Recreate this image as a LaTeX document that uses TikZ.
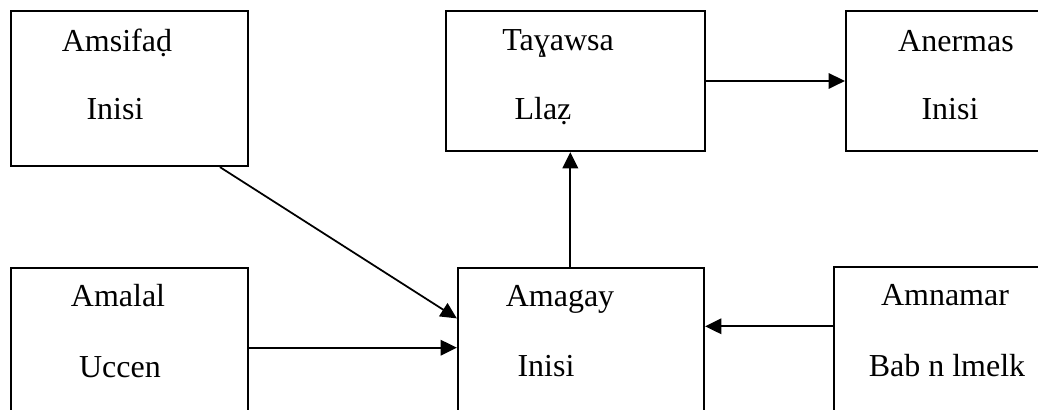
\documentclass[tikz,border=0pt]{standalone}
\usepackage{fontspec}
\setmainfont{Liberation Serif}
\usepackage{tikz}
\usetikzlibrary{arrows.meta}
\tikzstyle{block}=[draw,line width=0.6pt,rectangle,inner sep=0pt]
\tikzstyle{word}=[anchor=base,inner sep=0pt,font=\fontsize{9.1pt}{11pt}\selectfont]

\begin{document}
\begin{tikzpicture}[x=0.01cm, y=-0.01cm, line width=0.5pt, >={Triangle[length=4.6pt,width=4.4pt]}]
      \useasboundingbox (0,0) rectangle (1038,410);
      \clip (0,0) rectangle (1038,410);

      \node[block, minimum width=2.37cm, minimum height=1.55cm] (amsifad) at (129.5, 88.5) {};
      \node[block, minimum width=2.59cm, minimum height=1.40cm] (tayawsa) at (575.5, 81) {};
      \node[block, minimum width=2.04cm, minimum height=1.40cm] (anermas) at (948, 81) {};
      \node[block, minimum width=2.37cm, minimum height=1.72cm] (amalal) at (129.5, 354) {};
      \node[block, minimum width=2.46cm, minimum height=1.72cm] (amagay) at (581, 354) {};
      \node[block, minimum width=2.16cm, minimum height=1.73cm] (amnamar) at (942, 353.5) {};

      \node[word] (amsifad1) at (117, 52) {Amsifaḍ};
      \node[word] (amsifad2) at (115, 120) {Inisi};
      \node[word] (tayawsa1) at (558, 51) {Taɣawsa};
      \node[word] (tayawsa2) at (543, 120) {Llaẓ};
      \node[word] (anermas1) at (956, 52) {Anermas};
      \node[word] (anermas2) at (950, 120) {Inisi};
      \node[word] (amalal1) at (118, 307) {Amalal};
      \node[word] (amalal2) at (120, 378) {Uccen};
      \node[word] (amagay1) at (560, 307) {Amagay};
      \node[word] (amagay2) at (546, 377) {Inisi};
      \node[word] (amnamar1) at (945, 306) {Amnamar};
      \node[word] (amnamar2) at (947, 377) {Bab n lmelk};

      \draw[->] (amsifad.-41.2) -- (amagay.164.5);
      \draw[->] (amalal.3.4) -- (amalal.3.4 -| amagay.west);
      \draw[->] (amnamar.166.2) -- (amnamar.166.2 -| amagay.east);
      \draw[->] (amagay.97.3) -- (amagay.97.3 |- tayawsa.south);
      \draw[->] (tayawsa.east) -- (tayawsa.east -| anermas.west);
    \end{tikzpicture}
\end{document}
